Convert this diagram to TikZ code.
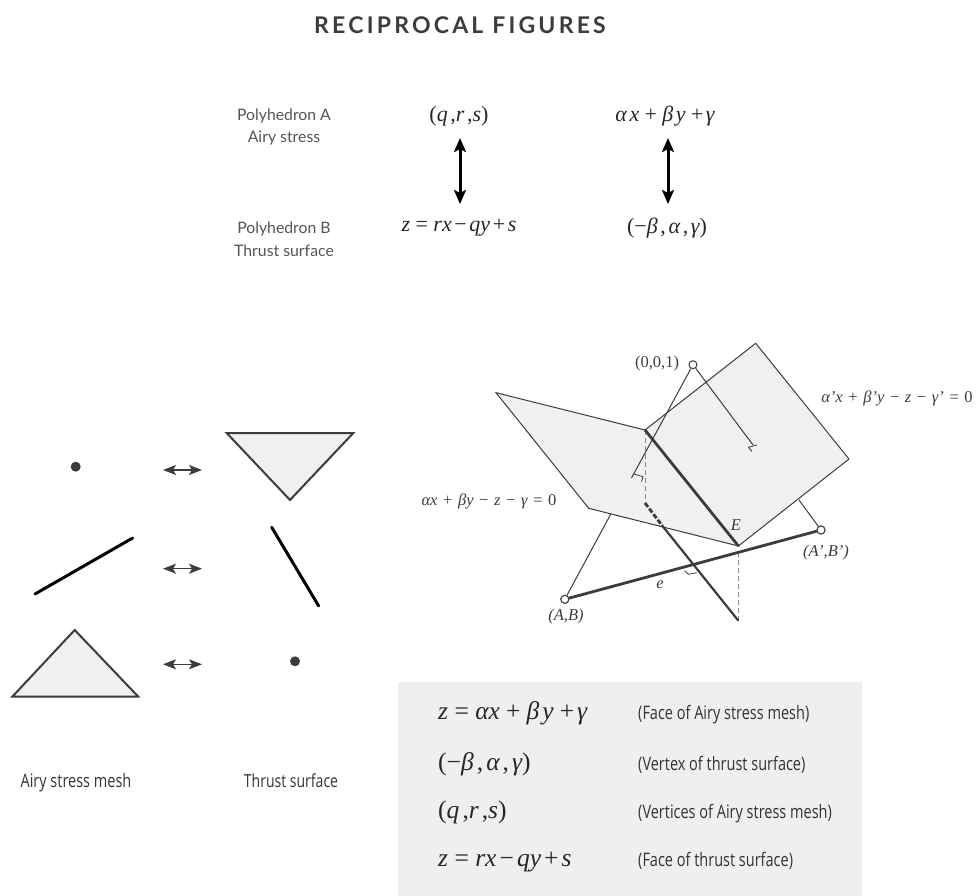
\documentclass[tikz,border=0pt]{standalone}
\usepackage{fontspec}
\setmainfont{Lato}
\newfontfamily\titlefont[LetterSpace=14]{Lato}
\newfontfamily\condfont[FakeStretch=0.78]{Open Sans}
\newfontfamily\eqfont{Liberation Serif}
\usetikzlibrary{arrows.meta}
\definecolor{plane}{HTML}{F1F0F0}
\definecolor{panel}{HTML}{EFEFEF}
\definecolor{edge}{HTML}{3C3C3C}
\definecolor{labeltext}{HTML}{555555}
\newcommand{\fsize}[1]{\fontsize{#1}{#1}\selectfont}
\newcommand{\iv}[1]{{\itshape #1}}
\newcommand{\gap}{\hspace{0.12em}}
\newcommand{\opgap}{\hspace{1.5pt}}

\begin{document}
\begin{tikzpicture}[
    x=1pt,
    y=-1pt,
    thinline/.style={draw=edge, line width=1pt},
    thickline/.style={draw=edge, line width=2.8pt},
    helper/.style={draw=edge!60, line width=0.8pt, dash pattern=on 5pt off 3pt},
    facet/.style={thinline, fill=plane, line join=miter},
    shape2d/.style={draw=edge, line width=2pt, fill=plane, line join=miter},
    bar2d/.style={draw=black, line width=3pt, line cap=round},
    dot2d/.style={circle, fill=edge, inner sep=0pt, minimum size=10pt},
    pairarrow/.style={draw=edge, line width=1.4pt, {Stealth[length=13pt,width=10pt,inset=3pt,fill=edge]}-{Stealth[length=13pt,width=10pt,inset=3pt,fill=edge]}},
    duality/.style={draw=black, line width=3pt, {Stealth[length=14pt,width=12pt,inset=3pt]}-{Stealth[length=14pt,width=12pt,inset=3pt]}},
    endpoint/.style={circle, draw=edge, fill=white, line width=1pt, inner sep=0pt, minimum size=8pt},
    caption/.style={text=labeltext, font=\fsize{15.8}, align=center, inner sep=0pt},
    eqn/.style={text=black!85, font=\eqfont\fsize{22}, inner sep=0pt},
    geom/.style={text=edge, font=\eqfont\fsize{16.5}, inner sep=0pt},
    cond/.style={text=black!80, font=\condfont\fsize{18.6}, inner sep=0pt, text height=14pt, text depth=4pt},
    rowmath/.style={eqn, anchor=west, font=\eqfont\fsize{25.5}, text height=17pt, text depth=6pt},
    rowtext/.style={cond, anchor=west}
]
\useasboundingbox (0,0) rectangle (978,896);

% Title
\node[text=edge, inner sep=0pt, font=\titlefont\bfseries\fsize{23}] (title) at (460,25) {RECIPROCAL FIGURES};

% Duality table
\node[caption] (polyA) at (284,127) {Polyhedron A\\[7pt]Airy stress};
\node[caption] (polyB) at (284,239) {Polyhedron B\\[7pt]Thrust surface};
\node[eqn] (qrs) at (459,116) {(\iv{q}\gap,\iv{r}\gap,\iv{s})};
\node[eqn] (plane) at (665,116) {\iv{α\gap x}\gap\gap+\gap\gap\iv{β\gap y}\gap\gap+\gap\iv{γ}};
\node[eqn] (face) at (459,228) {\iv{z} = \iv{rx}\gap−\gap\iv{qy}\gap+\gap\iv{s}};
\node[eqn] (vertex) at (667,228) {(−\iv{β}\gap,\gap\iv{α}\gap,\gap\iv{γ})};
\coordinate (leftup) at (460,138);
\coordinate (leftdown) at (460,204);
\coordinate (rightup) at (668,138);
\coordinate (rightdown) at (668,204);
\draw[duality] (leftup) -- (leftdown);
\draw[duality] (rightup) -- (rightdown);

% Airy stress mesh
\node[dot2d] (dotA) at (75.7,466.7) {};
\coordinate (barA1) at (35,594);
\coordinate (barA2) at (132.7,538);
\draw[bar2d] (barA1) -- (barA2);
\coordinate (triA1) at (74.7,630);
\coordinate (triA2) at (12.3,696.7);
\coordinate (triA3) at (138.3,696.7);
\draw[shape2d] (triA1) -- (triA2) -- (triA3) -- cycle;
\node[cond] (meshlabel) at (76,782) {Airy stress mesh};

% Thrust surface
\coordinate (triB1) at (226.7,433);
\coordinate (triB2) at (353.3,433);
\coordinate (triB3) at (290,500);
\draw[shape2d] (triB1) -- (triB2) -- (triB3) -- cycle;
\coordinate (barB1) at (271.7,527.3);
\coordinate (barB2) at (318.7,606);
\draw[bar2d] (barB1) -- (barB2);
\node[dot2d] (dotB) at (295,661.3) {};
\node[cond, font=\condfont\fsize{18}] (thrustlabel) at (291,782) {Thrust surface};

% Pair arrows
\foreach \y [count=\i] in {470,568.7,664.3} {
    \coordinate (pairL\i) at (163,\y);
    \coordinate (pairR\i) at (202,\y);
    \draw[pairarrow] (pairL\i) -- (pairR\i);
}

% Planes
\coordinate (P1) at (496,392.7);
\coordinate (P2) at (645,430);
\coordinate (P3) at (738.4,546);
\coordinate (P4) at (588.7,508.3);
\coordinate (Q1) at (755.7,343.3);
\coordinate (Q2) at (849,459);
\coordinate (belowP2) at (645,503);
\coordinate (entry) at (661.7,525);
\coordinate (tail) at (738.4,620.7);
\coordinate (dropP3) at (738.4,552);

% Feet and points
\node[endpoint] (apex) at (693,364.7) {};
\node[endpoint] (AB) at (564.8,599.3) {};
\node[endpoint] (ABp) at (821,530) {};
\coordinate (footL) at (631.5,478);
\coordinate (footR) at (753,445);
\coordinate (edgeL) at (610.8,514);
\coordinate (edgeR) at (799,500);

\draw[thinline] (edgeL) -- (AB);
\draw[thinline] (edgeR) -- (ABp);
\draw[facet] (P1) -- (P2) -- (P3) -- (P4) -- cycle;
\draw[facet] (P2) -- (Q1) -- (Q2) -- (P3);
\draw[thinline] (apex) -- (footL);
\draw[thinline] (apex) -- (footR);

% Right angle marks
\coordinate (m1) at (634,474);
\coordinate (m2) at (643,476.7);
\coordinate (m3) at (641.5,481.7);
\draw[thinline, line width=0.8pt] (m1) -- (m2) -- (m3);
\coordinate (m4) at (757,445);
\coordinate (m5) at (748.5,447.3);
\coordinate (m6) at (752,451.7);
\draw[thinline, line width=0.8pt] (m4) -- (m5) -- (m6);
\coordinate (m7) at (684.6,570.7);
\coordinate (m8) at (688.6,574.3);
\coordinate (m9) at (696.7,572.7);
\draw[thinline, line width=0.8pt] (m7) -- (m8) -- (m9);

% Intersection lines
\draw[helper] (P2) -- (belowP2);
\draw[helper] (dropP3) -- (tail);
\draw[thickline] (P2) -- (P3);
\draw[thickline, dash pattern=on 5pt off 2pt] (belowP2) -- (entry);
\draw[thickline, line width=2.2pt] (entry) -- (tail);
\draw[thickline] (AB) -- (ABp);
\node[endpoint] at (AB) {};
\node[endpoint] at (ABp) {};

% Geometry labels
\node[geom] (apexlabel) at (657,364) {(0,0,1)};
\node[geom] (planeR) at (897,398) {\iv{α’x}\opgap{} + \opgap\iv{β’y}\opgap{} − \opgap\iv{z}\opgap{} − \opgap\iv{γ’}\opgap{} = \opgap 0};
\node[geom] (planeL) at (489,501) {\iv{αx}\opgap{} + \opgap\iv{βy}\opgap{} − \opgap\iv{z}\opgap{} − \opgap\iv{γ}\opgap{} = \opgap 0};
\node[geom] (Elabel) at (736,525) {\iv{E}};
\node[geom] (ABplabel) at (826,553) {\iv{(A’,B’)}};
\node[geom] (ABlabel) at (566,617) {\iv{(A,B)}};
\node[geom] (elabel) at (660,585) {\iv{e}};

% Summary panel
\node[fill=panel, inner sep=0pt, minimum width=464pt, minimum height=214.3pt, anchor=north west] (panelbox) at (398,681.7) {};
\foreach \y/\m/\t [count=\i] in {
    714/{\iv{z} = \iv{αx}\gap\gap+\gap\gap\iv{β\gap y}\gap\gap+\gap\iv{γ}}/{(Face of Airy stress mesh)},
    765/{(−\iv{β}\gap,\gap\iv{α}\gap,\gap\iv{γ})}/{(Vertex of thrust surface)},
    813/{(\iv{q}\gap,\iv{r}\gap,\iv{s})}/{(Vertices of Airy stress mesh)},
    861/{\iv{z} = \iv{rx}\gap−\gap\iv{qy}\gap+\gap\iv{s}}/{(Face of thrust surface)}} {
    \node[rowmath] (rowm\i) at (438,\y) {\m};
    \node[rowtext] (rowt\i) at (638,\y) {\t};
}

\end{tikzpicture}
\end{document}
